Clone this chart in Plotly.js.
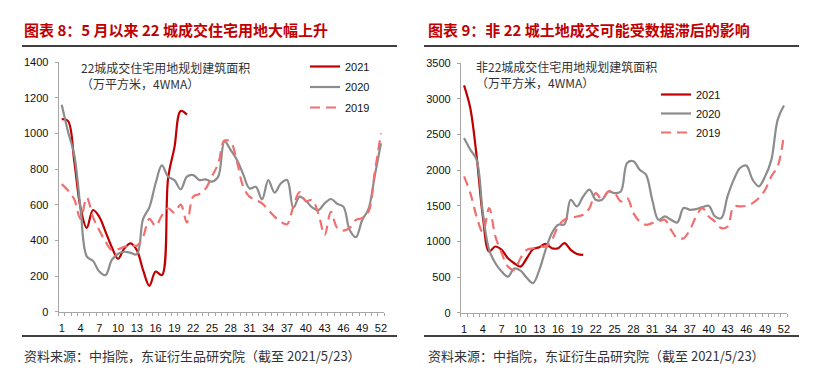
<!DOCTYPE html>
<html>
<head>
<meta charset="utf-8">
<script src="https://cdn.plot.ly/plotly-3.0.1.min.js"></script>
<style>
html,body{margin:0;padding:0;background:#fff;}
#chart{width:819px;height:389px;}
</style>
</head>
<body>
<div id="chart"></div>
<script>
// ---------- data ----------
const weeks = [1,2,3,4,5,6,7,8,9,10,11,12,13,14,15,16,17,18,19,20,21,22,23,24,25,26,27,28,29,30,31,32,33,34,35,36,37,38,39,40,41,42,43,44,45,46,47,48,49,50,51,52];
const xTickVals = [1,4,7,10,13,16,19,22,25,28,31,34,37,40,43,46,49,52];
const xTickText = ["1","4","7","10","13","16","19","22","25","28","31","34","37","40","43","46","49","52"];
const seriesNames = ["2021","2020","2019"];

// 22 cities (left)
const left2021 = [1080,1070,845,583,470,570,532,448,362,297,355,383,345,233,145,225,205,750,920,1125,1105];
const left2020 = [1160,1010,880,580,310,285,225,205,290,325,336,330,322,520,585,720,820,757,738,686,757,766,738,742,729,757,955,906,850,770,691,700,630,738,668,719,738,582,645,622,585,570,607,632,605,589,458,418,514,575,760,944];
const left2019 = [715,680,630,520,640,530,457,392,345,350,364,373,370,420,520,480,540,580,555,600,500,645,660,690,760,830,960,950,840,700,645,626,607,570,533,505,490,590,670,620,626,550,430,560,470,455,470,515,525,560,780,1000];

// non-22 cities (right)
const right2021 = [3190,2870,2200,1350,860,929,882,764,694,647,764,891,920,966,905,905,976,882,825,811];
const right2020 = [2453,2289,2148,1397,882,694,577,506,620,590,490,415,600,882,1116,1234,1240,1585,1491,1632,1726,1585,1585,1702,1679,1702,2101,2125,2007,1937,1585,1304,1351,1304,1266,1468,1444,1454,1482,1500,1351,1327,1632,1867,2031,2064,1867,1773,1914,2148,2710,2907];
const right2019 = [1913,1679,1350,1130,1468,1069,835,647,600,764,882,905,929,929,1022,1210,1304,1327,1350,1374,1468,1679,1585,1702,1679,1562,1609,1398,1280,1233,1257,1280,1304,1163,1046,1046,1163,1351,1468,1351,1280,1187,1210,1491,1491,1500,1538,1609,1726,1914,2054,2500];

const titleLeft = "图表 8：5 月以来 22 城成交住宅用地大幅上升";
const titleRight = "图表 9：非 22 城土地成交可能受数据滞后的影响";
const noteLeft = "22城成交住宅用地规划建筑面积<br>（万平方米，4WMA）";
const noteRight = "非22城成交住宅用地规划建筑面积<br>（万平方米，4WMA）";
const sourceText = "资料来源：中指院，东证衍生品研究院（截至 2021/5/23）";

// ---------- styles ----------
const W = 819, H = 389;
const px = v => v / W;
const py = v => (H - v) / H;
const colors = {"2021":"#C00000","2020":"#8C8C8C","2019":"#F07070"};
const dashes = {"2021":"solid","2020":"solid","2019":"10px,6px"};
const cjk = "Noto Sans CJK SC, sans-serif";
const latin = "Liberation Sans, Arial, sans-serif";

function mk(name, y, xa, ya, leg){
  return {
    x: weeks.slice(0, y.length), y: y, name: name, type: "scatter", mode: "lines",
    xaxis: xa, yaxis: ya, legend: leg, legendgroup: leg + name,
    line: {color: colors[name], width: 2.2, dash: dashes[name], shape: "spline", smoothing: 1}
  };
}
const traces = [
  mk("2021", left2021, "x", "y", "legend"),
  mk("2020", left2020, "x", "y", "legend"),
  mk("2019", left2019, "x", "y", "legend"),
  mk("2021", right2021, "x2", "y2", "legend2"),
  mk("2020", right2020, "x2", "y2", "legend2"),
  mk("2019", right2019, "x2", "y2", "legend2")
];

const axisGray = "#A6A6A6";
function xax(dom, anchor){
  return {domain: dom, anchor: anchor, range: [0.5, 52.5], tickmode: "array",
    tickvals: xTickVals, ticktext: xTickText, ticks: "", showline: true, linecolor: axisGray,
    linewidth: 1, showgrid: false, zeroline: false, fixedrange: true,
    tickfont: {family: latin, size: 11, color: "#111"}, ticklabelstandoff: 6,
    minor: {tick0: 0.5, dtick: 1, ticks: "outside", ticklen: 3, tickcolor: axisGray, tickwidth: 1, showgrid: false}};
}
function yax(dom, anchor, maxv, dt){
  return {domain: dom, anchor: anchor, range: [0, maxv], dtick: dt, tick0: 0,
    ticks: "outside", ticklen: 3, tickcolor: axisGray, showline: true, linecolor: axisGray,
    linewidth: 1, showgrid: false, zeroline: false, fixedrange: true,
    tickfont: {family: latin, size: 11, color: "#111"}, ticklabelstandoff: 4};
}

const layout = {
  width: W, height: H, margin: {l:0, r:0, t:0, b:0},
  paper_bgcolor: "#fff", plot_bgcolor: "#fff", showlegend: true,
  xaxis: xax([px(58.6), px(384.1)], "y"),
  yaxis: yax([py(311.7), py(62)], "x", 1400, 200),
  xaxis2: xax([px(460.9), px(787.1)], "y2"),
  yaxis2: yax([py(312.7), py(63.3)], "x2", 3500, 500),
  legend: {x: px(305), y: py(52), xanchor: "left", yanchor: "top", bgcolor: "rgba(0,0,0,0)",
    font: {family: latin, size: 11, color: "#111"}, tracegroupgap: 1.5, borderwidth: 0},
  legend2: {x: px(656), y: py(80), xanchor: "left", yanchor: "top", bgcolor: "rgba(0,0,0,0)",
    font: {family: latin, size: 11, color: "#111"}, tracegroupgap: 0, borderwidth: 0},
  shapes: [
    {type:"line", xref:"paper", yref:"paper", x0:px(22), x1:px(397), y0:py(46), y1:py(46), line:{color:"#000", width:1.3}},
    {type:"line", xref:"paper", yref:"paper", x0:px(22), x1:px(397), y0:py(336), y1:py(336), line:{color:"#000", width:1.3}},
    {type:"line", xref:"paper", yref:"paper", x0:px(424), x1:px(799), y0:py(46), y1:py(46), line:{color:"#000", width:1.3}},
    {type:"line", xref:"paper", yref:"paper", x0:px(424), x1:px(799), y0:py(336), y1:py(336), line:{color:"#000", width:1.3}}
  ],
  annotations: [
    {text: titleLeft, xref:"paper", yref:"paper", x:px(22), y:py(30), xanchor:"left", yanchor:"middle", showarrow:false,
      font:{family:cjk, size:15, color:"#C00000", weight:700}},
    {text: titleRight, xref:"paper", yref:"paper", x:px(426), y:py(30), xanchor:"left", yanchor:"middle", showarrow:false,
      font:{family:cjk, size:15, color:"#C00000", weight:700}},
    {text: noteLeft, xref:"paper", yref:"paper", x:px(79), y:py(57), xanchor:"left", yanchor:"top", align:"left", showarrow:false,
      font:{family:cjk, size:12, color:"#333"}},
    {text: noteRight, xref:"paper", yref:"paper", x:px(474), y:py(56), xanchor:"left", yanchor:"top", align:"left", showarrow:false,
      font:{family:cjk, size:12, color:"#333"}},
    {text: sourceText, xref:"paper", yref:"paper", x:px(22), y:py(355), xanchor:"left", yanchor:"middle", showarrow:false,
      font:{family:cjk, size:13, color:"#333"}},
    {text: sourceText, xref:"paper", yref:"paper", x:px(426), y:py(355), xanchor:"left", yanchor:"middle", showarrow:false,
      font:{family:cjk, size:13, color:"#333"}}
  ]
};

Plotly.newPlot("chart", traces, layout, {displayModeBar: false, staticPlot: true});
</script>
</body>
</html>
